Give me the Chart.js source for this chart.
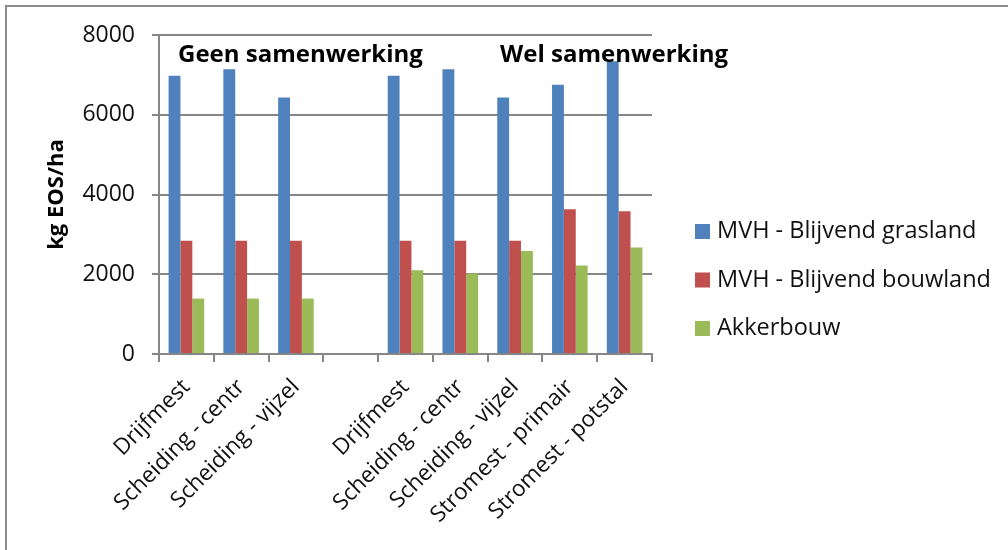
<!DOCTYPE html>
<html>
<head>
<meta charset="utf-8">
<script src="https://cdn.jsdelivr.net/npm/chart.js@4"></script>
<style>
  html, body { margin: 0; padding: 0; background: #fff; }
  #wrap { position: relative; width: 1008px; height: 550px; overflow: hidden; }
  #frame { position: absolute; left: 5px; top: 5px; width: 1100px; height: 600px;
           border-top: 2px solid #8c8c8c; border-left: 2px solid #8c8c8c; }
  #c { position: absolute; left: 0; top: 0; }
</style>
</head>
<body>
<div id="wrap">
  <div id="frame"></div>
  <canvas id="c" width="1008" height="550"></canvas>
</div>
<script>
// Manure treatment options, without and with cooperation (empty slot separates the groups)
const categories = [
  'Drijfmest', 'Scheiding - centr', 'Scheiding - vijzel', '',
  'Drijfmest', 'Scheiding - centr', 'Scheiding - vijzel', 'Stromest - primair', 'Stromest - potstal'
];
const seriesNames = ['MVH - Blijvend grasland', 'MVH - Blijvend bouwland', 'Akkerbouw'];
// kg EOS/ha per option
const grasland = [6980, 7140, 6430, null, 6980, 7140, 6430, 6750, 7340];
const bouwland = [2840, 2840, 2840, null, 2840, 2840, 2840, 3630, 3580];
const akkerbouw = [1390, 1390, 1390, null, 2100, 2020, 2580, 2220, 2670];
const yTicks = [0, 2000, 4000, 6000, 8000];
const groupTitles = ['Geen samenwerking', 'Wel samenwerking'];

const colors = ['#4F81BD', '#C0504D', '#9BBB59'];
const FONT = '"Open Sans", Lato, sans-serif';
const gridColor = '#868686';

// Group captions above the bars
const captionPlugin = {
  id: 'captions',
  afterDatasetsDraw(chart) {
    const { ctx, chartArea, scales } = chart;
    ctx.save();
    ctx.font = 'bold 24px ' + FONT;
    ctx.fillStyle = '#000';
    ctx.textBaseline = 'middle';
    ctx.textAlign = 'left';
    const y = chartArea.top + 20;
    ctx.fillText(groupTitles[0], chartArea.left + 19, y);
    ctx.fillText(groupTitles[1], scales.x.getPixelForValue(6) - 15, y);
    ctx.restore();
  }
};

// Legend to the right of the plot area
const sideLegend = {
  id: 'sideLegend',
  afterDraw(chart) {
    const { ctx, chartArea } = chart;
    const x0 = chartArea.right + 43;
    const yMid = chart.height / 2 + 5;
    const step = 48.5;
    ctx.save();
    ctx.font = '23.5px ' + FONT;
    ctx.textBaseline = 'middle';
    ctx.textAlign = 'left';
    chart.data.datasets.forEach((ds, i) => {
      const y = yMid + (i - 1) * step;
      ctx.fillStyle = ds.backgroundColor;
      ctx.fillRect(x0, y - 7.5, 15, 15);
      ctx.fillStyle = '#111';
      ctx.fillText(ds.label, x0 + 22, y);
    });
    ctx.restore();
  }
};

new Chart(document.getElementById('c'), {
  type: 'bar',
  data: {
    labels: categories,
    datasets: [
      { label: seriesNames[0], data: grasland, backgroundColor: colors[0] },
      { label: seriesNames[1], data: bouwland, backgroundColor: colors[1] },
      { label: seriesNames[2], data: akkerbouw, backgroundColor: colors[2] }
    ]
  },
  options: {
    responsive: false,
    animation: false,
    devicePixelRatio: 1,
    layout: { padding: { left: 0, top: 35, right: 356, bottom: 0 } },
    datasets: { bar: { categoryPercentage: 0.65, barPercentage: 1.0, borderWidth: 0 } },
    plugins: {
      legend: { display: false },
      tooltip: { enabled: false }
    },
    scales: {
      y: {
        min: 0, max: 8000,
        afterBuildTicks(scale) { scale.ticks = yTicks.map(v => ({ value: v })); },
        afterFit(scale) { scale.width = 159; },
        ticks: {
          font: { family: FONT, size: 23 }, color: '#111', padding: 17,
          callback: v => String(v)
        },
        grid: { color: gridColor, lineWidth: 2, tickLength: 7 },
        border: { display: true, color: gridColor, width: 2 },
        title: {
          display: true, text: 'kg EOS/ha', color: '#000',
          font: { family: FONT, size: 22, weight: 'bold' },
          padding: { top: 44, bottom: 0 }
        }
      },
      x: {
        afterFit(scale) { scale.height = 550 - 354; },
        ticks: {
          font: { family: FONT, size: 22.5 }, color: '#111',
          maxRotation: 45, minRotation: 45, autoSkip: false, padding: 12
        },
        grid: { display: true, drawOnChartArea: false, drawTicks: true, tickLength: 8,
                offset: true, color: gridColor, lineWidth: 2 },
        border: { display: true, color: gridColor, width: 2 }
      }
    }
  },
  plugins: [captionPlugin, sideLegend]
});
</script>
</body>
</html>
